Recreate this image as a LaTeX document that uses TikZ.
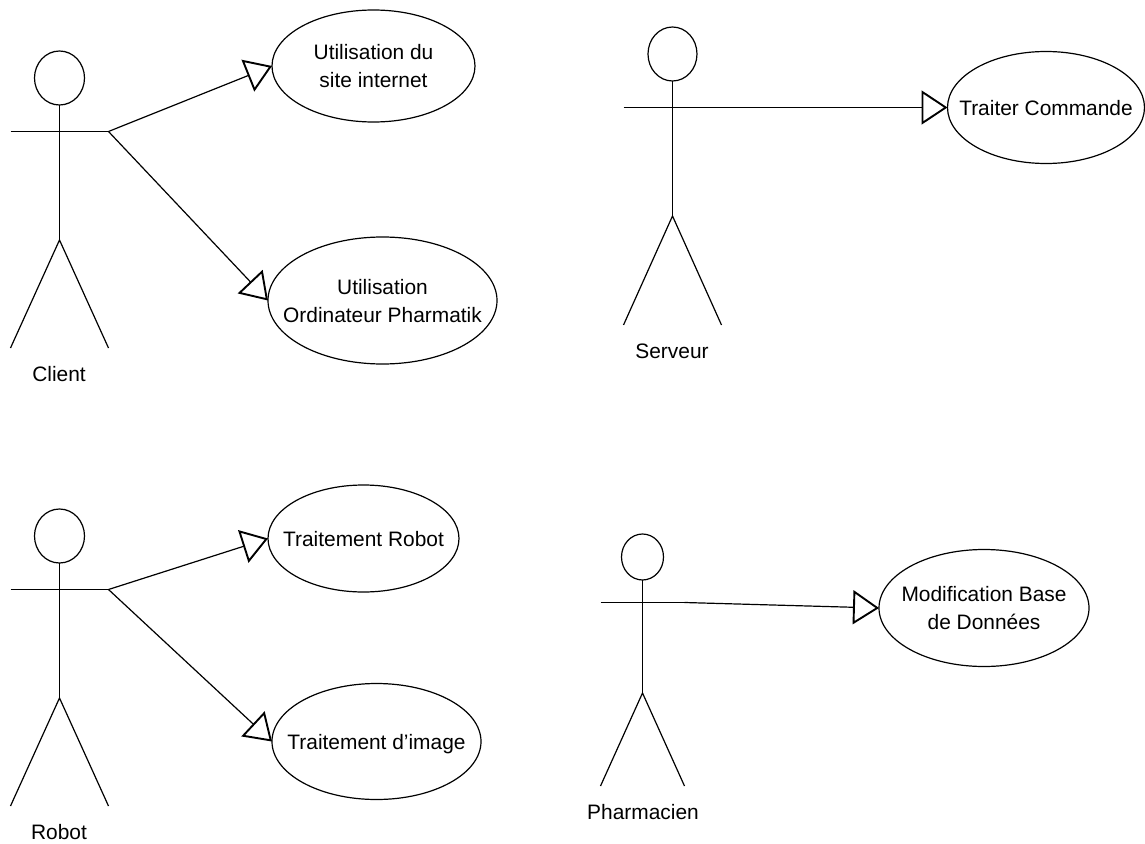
\documentclass[tikz,border=0pt]{standalone}
\usepackage{fontspec}
\setmainfont{Liberation Sans}
\usetikzlibrary{shapes.geometric,arrows.meta,calc}
\tikzset{
  usecase/.style={draw,ellipse,inner sep=0pt,outer sep=0pt,line width=1.2pt,font=\fontsize{20.9}{28}\selectfont},
  lbl/.style={inner sep=0pt,font=\fontsize{20.9}{28}\selectfont},
  head/.style={draw,ellipse,inner sep=0pt,outer sep=0pt,line width=1.2pt},
  limb/.style={line width=1.2pt},
  assoc/.style={line width=1.2pt,-{Triangle[open,length=26pt,width=34pt,line width=1.9pt]}}
}
% zero-size text block, so the text does not change the ellipse or its centre
\newcommand{\uctext}[1]{\makebox[0pt][c]{\raisebox{-7.2pt}[0pt][0pt]{\begin{tabular}{@{}c@{}}#1\end{tabular}}}}
% name, cx, head height, head width, head cy, arm y, hip y, foot y, half span
\newcommand{\stickman}[9]{%
  \node[head,minimum width=#4pt,minimum height=#3pt] (#1head) at (#2,#5) {};
  \coordinate (#1hip) at (#2,#7);
  \coordinate (#1hand) at ($(#2,#6)+(#9,0)$);
  \coordinate (#1other) at ($(#2,#6)-(#9,0)$);
  \coordinate (#1footL) at ($(#2,#8)-(#9,0)$);
  \coordinate (#1footR) at ($(#2,#8)+(#9,0)$);
  \draw[limb] (#1head.south) -- (#1hip);
  \draw[limb] (#1other) -- (#1hand);
  \draw[limb] (#1footL) -- (#1hip) -- (#1footR);
}
\begin{document}
\begin{tikzpicture}[x=1pt,y=-1pt]
\useasboundingbox (0,0) rectangle (1145,843);
\fill[white] (0,0) rectangle (1145,843);

\stickman{cl}{59.5}{54}{50}{78}{131.5}{240}{348}{49}
\node[lbl] (clL) at (59,374) {Client};
\node[usecase,minimum width=203pt,minimum height=112pt] (uA) at (373.5,66) {\uctext{Utilisation du\\site internet}};
\node[usecase,minimum width=229pt,minimum height=127pt] (uB) at (382.5,300.5) {\uctext{Utilisation\\Ordinateur Pharmatik}};
\draw[assoc] (clhand) -- (uA.west);
\draw[assoc] (clhand) -- (uB.west);

\stickman{se}{672.5}{54}{49}{54}{107.5}{216}{325}{49}
\node[lbl] (seL) at (672,351) {Serveur};
\node[usecase,minimum width=197pt,minimum height=112pt] (uC) at (1046,107.5) {\uctext{Traiter Commande}};
\draw[assoc] (sehand) -- (uC.west);

\stickman{ro}{59.5}{54}{50}{536}{589.5}{698}{806}{49}
\node[lbl] (roL) at (59,832) {Robot};
\node[usecase,minimum width=191pt,minimum height=107pt] (uD) at (363.5,538.5) {\uctext{Traitement Robot}};
\node[usecase,minimum width=209pt,minimum height=116pt] (uE) at (376.5,741.5) {\uctext{Traitement d\symbol{39}image}};
\draw[assoc] (rohand) -- (uD.west);
\draw[assoc] (rohand) -- (uE.west);

\stickman{ph}{642.5}{46}{42}{557}{602.5}{693}{786}{42}
\node[lbl] (phL) at (643,812) {Pharmacien};
\node[usecase,minimum width=210pt,minimum height=117pt] (uF) at (984,608) {\uctext{Modification Base\\de Données}};
\draw[assoc] (phhand) -- (uF.west);
\end{tikzpicture}
\end{document}
